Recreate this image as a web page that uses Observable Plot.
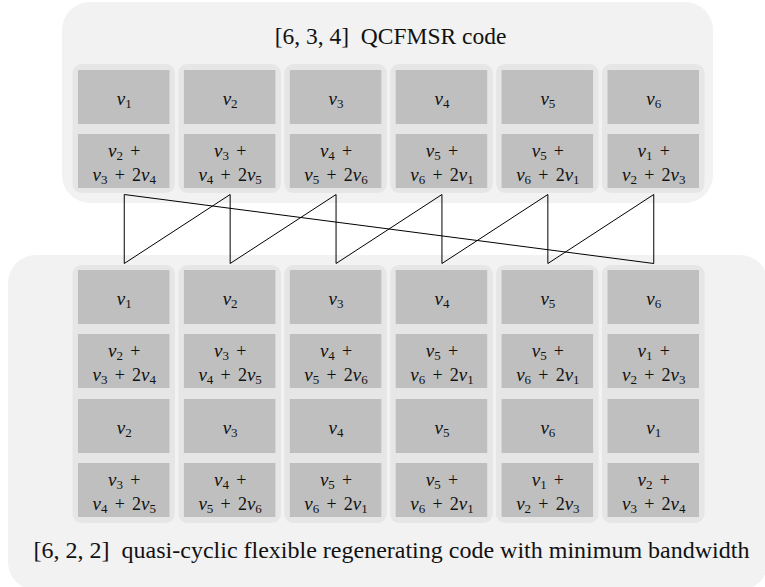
<!DOCTYPE html>
<html>
<head>
<meta charset="utf-8">
<script src="https://cdn.jsdelivr.net/npm/d3@7"></script>
<script src="https://cdn.jsdelivr.net/npm/@observablehq/plot@0.6"></script>
<style>
  html, body { margin: 0; padding: 0; background: white; }
  svg { display: block; }
</style>
</head>
<body>
<div id="chart"></div>
<script>
// ---- data (labels of each storage node) ----
const topTitle = "[6, 3, 4]  QCFMSR code";
const bottomTitle = "[6, 2, 2]  quasi-cyclic flexible regenerating code with minimum bandwidth";
const topRow1 = ["v_1", "v_2", "v_3", "v_4", "v_5", "v_6"];
const topRow2 = ["v_2 +\nv_3 + 2v_4", "v_3 +\nv_4 + 2v_5", "v_4 +\nv_5 + 2v_6", "v_5 +\nv_6 + 2v_1", "v_5 +\nv_6 + 2v_1", "v_1 +\nv_2 + 2v_3"];
const lowRow3 = ["v_2", "v_3", "v_4", "v_5", "v_6", "v_1"];
const lowRow4 = ["v_3 +\nv_4 + 2v_5", "v_4 +\nv_5 + 2v_6", "v_5 +\nv_6 + 2v_1", "v_5 +\nv_6 + 2v_1", "v_1 +\nv_2 + 2v_3", "v_2 +\nv_3 + 2v_4"];
// lower node j is linked to upper nodes j and j+1 (cyclic)
const linkOffsets = [0, 1];

// ---- layout ----
const W = 765, H = 587;
const colX0 = 78, pitch = 105.9, cellW = 91.5, pad = 5.5;
const topRowsY = [[70, 124], [134, 188]];
const lowRowsY = [[270, 324], [334, 388], [399, 453], [463, 517]];
const topCont = [64, 193], lowCont = [265, 523];

const cx1 = i => colX0 + i * pitch;
const cxm = i => colX0 + i * pitch + cellW / 2;

const topCells = [], lowCells = [], containers = [];
for (let i = 0; i < 6; i++) {
  topCells.push({x1: cx1(i), x2: cx1(i) + cellW, y1: topRowsY[0][0], y2: topRowsY[0][1], label: topRow1[i]});
  topCells.push({x1: cx1(i), x2: cx1(i) + cellW, y1: topRowsY[1][0], y2: topRowsY[1][1], label: topRow2[i]});
  const lowLabels = [topRow1[i], topRow2[i], lowRow3[i], lowRow4[i]];
  lowRowsY.forEach((r, k) => lowCells.push({x1: cx1(i), x2: cx1(i) + cellW, y1: r[0], y2: r[1], label: lowLabels[k]}));
  containers.push({x1: cx1(i) - pad, x2: cx1(i) + cellW + pad, y1: topCont[0], y2: topCont[1]});
  containers.push({x1: cx1(i) - pad, x2: cx1(i) + cellW + pad, y1: lowCont[0], y2: lowCont[1]});
}
const cells = topCells.concat(lowCells).map(d => ({...d, cx: (d.x1 + d.x2) / 2, cy: (d.y1 + d.y2) / 2}));

const links = [];
for (let j = 0; j < 6; j++) {
  for (const o of linkOffsets) {
    const t = (j + o) % 6;
    links.push({x1: cxm(t), y1: topCont[1] + 1, x2: cxm(j), y2: lowCont[0] - 2});
  }
}

const outer = [
  {x1: 62, x2: 713, y1: 2, y2: 203},
  {x1: 8, x2: 768, y1: 255, y2: 590}
];

const svg = Plot.plot({
  width: W, height: H, margin: 0,
  x: {type: "linear", domain: [0, W], range: [0, W], axis: null},
  y: {type: "linear", domain: [0, H], range: [0, H], axis: null},
  style: {background: "white"},
  marks: [
    Plot.rect(outer, {x1: "x1", x2: "x2", y1: "y1", y2: "y2", fill: "#f2f2f2", rx: 28}),
    Plot.rect(containers, {x1: "x1", x2: "x2", y1: "y1", y2: "y2", fill: "#e6e6e6", rx: 9}),
    Plot.rect(cells, {x1: "x1", x2: "x2", y1: "y1", y2: "y2", fill: "#bfbfbf"}),
    Plot.link(links, {x1: "x1", y1: "y1", x2: "x2", y2: "y2", stroke: "black", strokeWidth: 1}),
    Plot.text(cells, {x: "cx", y: "cy", text: "label", fontSize: 15, lineHeight: 1.55,
      fontFamily: "Liberation Serif", fill: "#111"}),
    Plot.text([topTitle], {x: () => 390, y: () => 36, text: d => d, fontSize: 23.5, fontFamily: "Liberation Serif", fill: "#111"}),
    Plot.text([bottomTitle], {x: () => 391, y: () => 550, text: d => d, fontSize: 24, fontFamily: "Liberation Serif", fill: "#111"})
  ]
});

// turn "v_2" markup into italic v with subscript digit
const NS = "http://www.w3.org/2000/svg";
const FF = "Liberation Serif";
function fmt(node) {
  const s = node.textContent;
  node.textContent = "";
  const parts = s.split(/(v_\d)/);
  for (const p of parts) {
    if (!p) continue;
    const m = p.match(/^v_(\d)$/);
    if (m) {
      const v = document.createElementNS(NS, "tspan");
      v.setAttribute("font-style", "italic");
      v.setAttribute("font-family", FF);
      v.setAttribute("font-size", "19");
      v.textContent = "v";
      node.appendChild(v);
      const sub = document.createElementNS(NS, "tspan");
      sub.setAttribute("font-family", FF);
      sub.setAttribute("font-size", "13");
      sub.setAttribute("baseline-shift", "-3");
      sub.textContent = m[1];
      node.appendChild(sub);
    } else {
      const t = document.createElementNS(NS, "tspan");
      t.setAttribute("font-family", FF);
      t.setAttribute("font-size", "18");
      t.textContent = p.replace(/ /g, "\u2009\u2009");
      node.appendChild(t);
    }
  }
}
svg.querySelectorAll("text").forEach(t => {
  if (!t.textContent.includes("v_")) return;
  const lines = Array.from(t.children).filter(c => c.tagName.toLowerCase() === "tspan");
  if (lines.length) lines.forEach(fmt); else fmt(t);
});

document.getElementById("chart").appendChild(svg);
</script>
</body>
</html>
